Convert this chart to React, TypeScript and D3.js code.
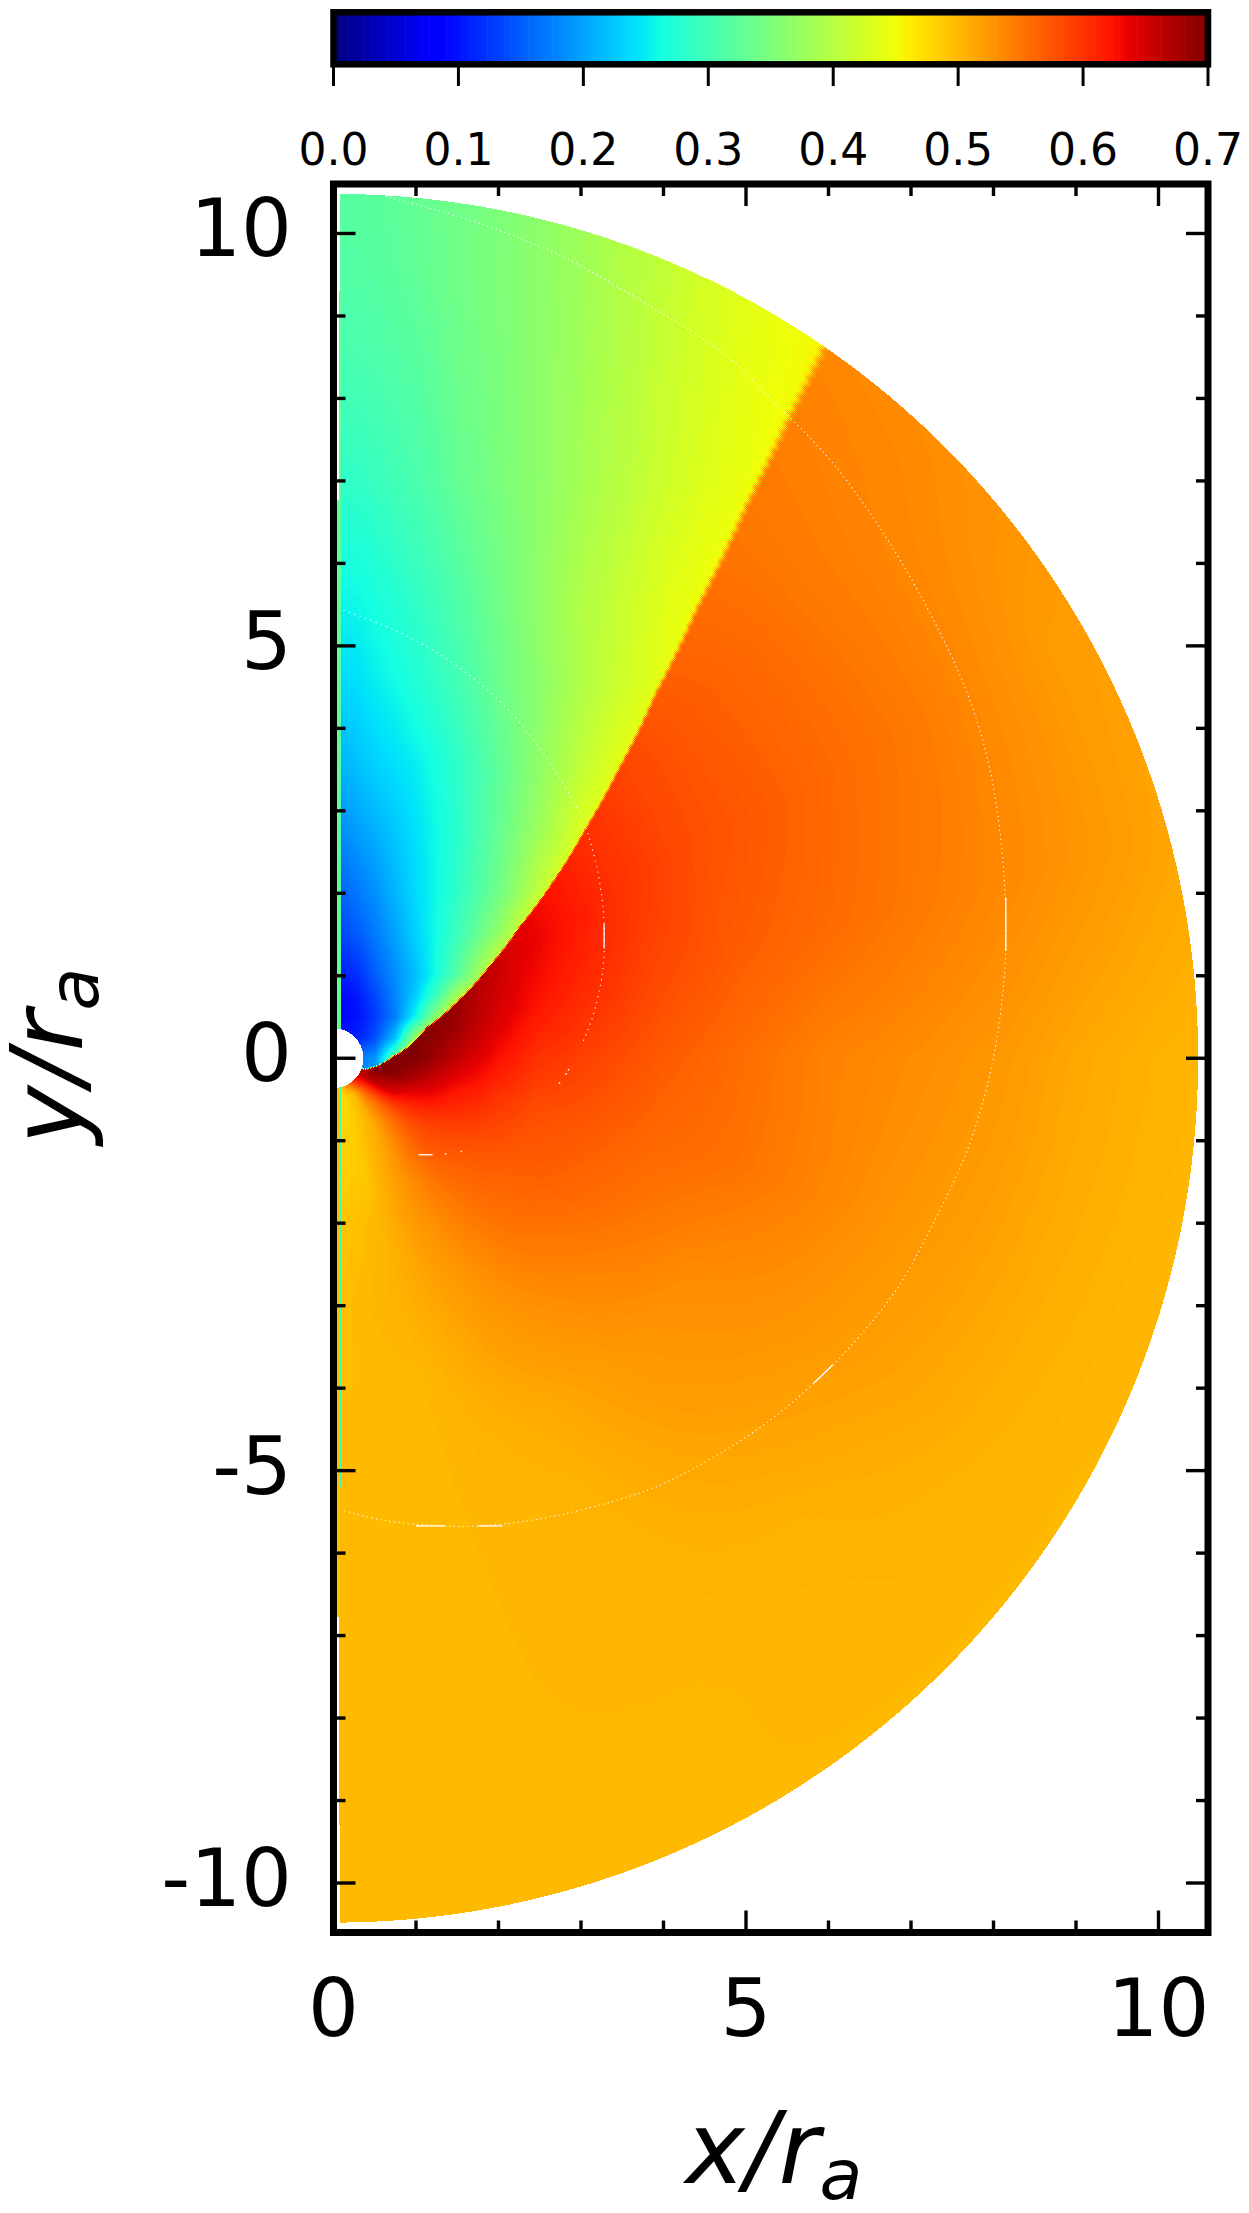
import React, { useMemo } from "react";
import * as d3 from "d3";

// colour bar ticks
const barTicks = [0, 0.1, 0.2, 0.3, 0.4, 0.5, 0.6, 0.7];
const xTicks = [0, 1, 2, 3, 4, 5, 6, 7, 8, 9, 10];
const yTicks = [-10, -9, -8, -7, -6, -5, -4, -3, -2, -1, 0, 1, 2, 3, 4, 5, 6, 7, 8, 9, 10];
const xLabels = [0, 5, 10];
const yLabels = [-10, -5, 0, 5, 10];

// shock front, inner end to outer end
const shockX = [0.364, 0.71, 1.12, 1.52, 1.88, 2.24, 2.65, 3.05, 3.45, 3.9, 4.4, 5.0, 5.5, 5.93];
const shockY = [-0.13, 0.02, 0.37, 0.71, 1.11, 1.58, 2.13, 2.78, 3.5, 4.42, 5.45, 6.7, 7.73, 8.6];

// field above the shock: rows by y, columns by x (short rows stop at the shock)
const upperY = [-0.2, 0, 0.25, 0.5, 0.75, 1, 1.5, 2, 2.75, 3.5, 4.5, 5.5, 7, 8.5, 9.5, 10.5];
const upperX = [0.1, 0.3, 0.5, 0.75, 1, 1.25, 1.5, 2, 2.5, 3, 3.5, 4, 4.5, 5, 5.5, 6];
const upperV = [
  [0.18, 0.18, 0.19, 0.3],
  [0.17, 0.17, 0.19, 0.33, 0.44],
  [0.1, 0.11, 0.14, 0.22, 0.38, 0.45],
  [0.085, 0.1, 0.125, 0.175, 0.26, 0.37, 0.45],
  [0.09, 0.105, 0.135, 0.18, 0.23, 0.3, 0.39, 0.46],
  [0.105, 0.12, 0.15, 0.185, 0.22, 0.265, 0.32, 0.44],
  [0.135, 0.15, 0.17, 0.2, 0.232, 0.262, 0.295, 0.37, 0.46],
  [0.155, 0.17, 0.187, 0.212, 0.238, 0.26, 0.285, 0.34, 0.41, 0.46],
  [0.185, 0.197, 0.208, 0.225, 0.242, 0.26, 0.28, 0.33, 0.38, 0.43, 0.46],
  [0.21, 0.22, 0.23, 0.24, 0.25, 0.265, 0.283, 0.325, 0.368, 0.41, 0.44, 0.46],
  [0.235, 0.24, 0.25, 0.26, 0.272, 0.285, 0.3, 0.335, 0.365, 0.395, 0.42, 0.44, 0.46],
  [0.255, 0.258, 0.265, 0.275, 0.285, 0.298, 0.312, 0.34, 0.368, 0.396, 0.415, 0.435, 0.45, 0.46],
  [0.285, 0.287, 0.292, 0.3, 0.308, 0.318, 0.33, 0.348, 0.365, 0.385, 0.402, 0.418, 0.433, 0.445, 0.455, 0.46],
  [0.305, 0.307, 0.31, 0.315, 0.32, 0.328, 0.337, 0.35, 0.365, 0.382, 0.398, 0.414, 0.427, 0.44, 0.448, 0.455],
  [0.315, 0.316, 0.318, 0.322, 0.327, 0.333, 0.34, 0.352, 0.365, 0.38, 0.397, 0.41, 0.425, 0.437, 0.445, 0.45],
  [0.32, 0.32, 0.322, 0.325, 0.33, 0.335, 0.34, 0.35, 0.365, 0.38, 0.395, 0.41, 0.425, 0.435, 0.445, 0.45],
];

// field below the shock: rows by radius, columns by polar angle from +y
const lowerR = [0.36, 0.5, 0.75, 1, 1.5, 2, 2.5, 3, 4, 5, 6, 7, 8, 9, 10, 10.45];
const lowerT = [35, 45, 60, 75, 90, 105, 120, 135, 150, 165, 180];
const lowerV = [
  [0.66, 0.66, 0.66, 0.66, 0.66, 0.66, 0.66, 0.62, 0.55, 0.49, 0.47],
  [0.7, 0.7, 0.7, 0.7, 0.7, 0.7, 0.665, 0.58, 0.5, 0.475, 0.47],
  [0.7, 0.7, 0.7, 0.7, 0.7, 0.695, 0.65, 0.56, 0.505, 0.48, 0.475],
  [0.7, 0.7, 0.7, 0.7, 0.7, 0.67, 0.62, 0.56, 0.51, 0.485, 0.48],
  [0.695, 0.695, 0.695, 0.685, 0.66, 0.625, 0.595, 0.57, 0.525, 0.49, 0.482],
  [0.67, 0.67, 0.67, 0.65, 0.625, 0.6, 0.58, 0.56, 0.53, 0.5, 0.49],
  [0.65, 0.65, 0.645, 0.625, 0.6, 0.58, 0.57, 0.555, 0.528, 0.503, 0.492],
  [0.635, 0.635, 0.63, 0.61, 0.59, 0.575, 0.565, 0.55, 0.525, 0.505, 0.495],
  [0.605, 0.605, 0.6, 0.585, 0.57, 0.56, 0.55, 0.535, 0.52, 0.5, 0.497],
  [0.58, 0.585, 0.58, 0.57, 0.555, 0.553, 0.535, 0.525, 0.51, 0.5, 0.5],
  [0.565, 0.57, 0.57, 0.56, 0.54, 0.54, 0.53, 0.52, 0.505, 0.5, 0.5],
  [0.555, 0.56, 0.558, 0.55, 0.533, 0.528, 0.522, 0.513, 0.503, 0.5, 0.5],
  [0.55, 0.548, 0.548, 0.54, 0.525, 0.52, 0.515, 0.505, 0.502, 0.5, 0.5],
  [0.545, 0.54, 0.535, 0.53, 0.513, 0.51, 0.507, 0.503, 0.5, 0.5, 0.5],
  [0.54, 0.535, 0.522, 0.52, 0.505, 0.503, 0.502, 0.502, 0.5, 0.5, 0.5],
  [0.537, 0.532, 0.52, 0.515, 0.503, 0.502, 0.5, 0.5, 0.5, 0.5, 0.5],
];

// thin white seams of the mesh
const seamOuter: [number, number][] = [
  [0.63, 10.45], [1.69, 10.15], [2.73, 9.74], [3.75, 9.17], [4.75, 8.53], [5.27, 8.02], [5.76, 7.54], [6.17, 7.07],
  [6.74, 6.25], [7.27, 5.32], [7.68, 4.43], [7.93, 3.62], [8.08, 2.73], [8.15, 1.68], [8.12, 0.86], [7.96, -0.18],
  [7.68, -1.12], [7.27, -2.0], [6.84, -2.78], [6.35, -3.4], [5.9, -3.87], [5.21, -4.45], [4.39, -4.96], [3.82, -5.23],
  [2.73, -5.54], [1.81, -5.67], [1.32, -5.67], [0.59, -5.6], [0.11, -5.48],
];
const seamInner: [number, number][] = [
  [0.12, 5.43], [0.51, 5.29], [0.91, 5.11], [1.36, 4.85], [1.93, 4.41], [2.33, 3.98], [2.73, 3.41], [3.02, 2.89],
  [3.18, 2.37], [3.27, 1.8], [3.28, 1.47], [3.26, 1.03], [3.14, 0.5], [3.02, 0.19],
];
const seamDots: [number, number][] = [[2.81, -0.18], [2.73, -0.29], [2.84, -0.13], [1.54, -1.12], [1.35, -1.15]];
const seamDashes: [number, number, number, number][] = [
  [8.15, 1.95, 8.15, 1.3],
  [3.28, 1.63, 3.28, 1.33],
  [1.03, -1.17, 1.2, -1.17],
  [5.82, -3.94, 6.05, -3.72],
  [1.35, -5.67, 1.0, -5.67],
  [2.05, -5.67, 1.75, -5.67],
];

const W = 1249;
const H = 2213;
const x = d3.scaleLinear().domain([0, 10.6]).range([333.5, 1208]);
const y = d3.scaleLinear().domain([-10.6, 10.6]).range([1932.5, 184]);
const barX = d3.scaleLinear().domain([0, 0.7]).range([333.5, 1208]);

// matplotlib jet
const jetR = d3.scaleLinear().domain([0, 0.35, 0.66, 0.89, 1]).range([0, 0, 1, 1, 0.5]);
const jetG = d3.scaleLinear().domain([0, 0.125, 0.375, 0.64, 0.91, 1]).range([0, 0, 1, 1, 0, 0]);
const jetB = d3.scaleLinear().domain([0, 0.11, 0.34, 0.65, 1]).range([0.5, 1, 1, 0, 0]);
const jet = (t: number) => d3.rgb(jetR(t) * 255, jetG(t) * 255, jetB(t) * 255).formatHex();
const LEVELS = 256;
const levelOf = d3.scaleQuantize().domain([0, 0.7]).range(d3.range(LEVELS));

const shockR = shockX.map((d, i) => Math.hypot(d, shockY[i]));
const shockT = shockX.map((d, i) => (Math.atan2(d, shockY[i]) * 180) / Math.PI);
const shockAngle = d3.scaleLinear().domain(shockR).range(shockT).clamp(true);

function bilerp(rows: number[], cols: number[], grid: number[][], a: number, b: number) {
  const i = Math.max(0, Math.min(rows.length - 2, d3.bisectRight(rows, a) - 1));
  const j = Math.max(0, Math.min(cols.length - 2, d3.bisectRight(cols, b) - 1));
  const u = Math.max(0, Math.min(1, (a - rows[i]) / (rows[i + 1] - rows[i])));
  const v = Math.max(0, Math.min(1, (b - cols[j]) / (cols[j + 1] - cols[j])));
  const g = (m: number, n: number) => grid[m][Math.min(n, grid[m].length - 1)];
  return (
    g(i, j) * (1 - u) * (1 - v) + g(i + 1, j) * u * (1 - v) + g(i, j + 1) * (1 - u) * v + g(i + 1, j + 1) * u * v
  );
}

// one path per colour level, made of pixel runs, so the field stays plain svg
function buildField() {
  const parts: string[][] = d3.range(LEVELS).map(() => []);
  const ppu = x(1) - x(0);
  for (let iy = 188; iy < 1930; iy++) {
    const dy = y.invert(iy + 0.5);
    const ady = Math.abs(dy);
    const start = ady > 9.3 ? 340 : ady > 6.77 ? 339 : 337;
    let runStart = -1;
    let runLevel = -1;
    for (let ix = start; ix <= 1200; ix++) {
      const dx = x.invert(ix + 0.5);
      const r = Math.hypot(dx, dy);
      let level = -1;
      if (r >= 0.362 && r <= 10.48) {
        let val: number;
        if (ix < 341 && dy > -0.02) {
          val = 0.325;
        } else if (ix < 340 && dy <= -0.02) {
          val = 0.495;
        } else if (ix === 340 && dy > -5.2) {
          val = 0.3;
        } else {
          const t = (Math.atan2(dx, dy) * 180) / Math.PI;
          const s = r * ppu;
          const w = Math.max(0.8, 0.45 * (r - 2));
          const tooth = Math.abs(((s / 5) % 2) - 1) - 0.5;
          const d = (((t - shockAngle(r)) * Math.PI) / 180) * s + w * 0.8 * tooth;
          const k = (d + w) / (2 * w) + ((ix + iy) & 1 ? 0.3 : -0.3);
          const up = k < 1 ? bilerp(upperY, upperX, upperV, dy, dx) : 0;
          const low = k > 0 ? bilerp(lowerR, lowerT, lowerV, r, t) : 0;
          val = k <= 0 ? up : k >= 1 ? low : up + (low - up) * k;
        }
        level = levelOf(val) as number;
      }
      if (level !== runLevel) {
        if (runLevel >= 0) parts[runLevel].push(`M${runStart} ${iy}h${ix - runStart}v1h${runStart - ix}z`);
        runStart = ix;
        runLevel = level;
      }
    }
    if (runLevel >= 0) parts[runLevel].push(`M${runStart} ${iy}h${1201 - runStart}v1h${runStart - 1201}z`);
  }
  return parts.map((p, i) => ({ level: i, d: p.join("") })).filter((p) => p.d.length > 0);
}

const font = "'DejaVu Sans', sans-serif";
const seamLine = d3
  .line<[number, number]>()
  .x((d) => x(d[0]))
  .y((d) => y(d[1]))
  .curve(d3.curveCatmullRom);

export default function App() {
  const layers = useMemo(buildField, []);
  const levels = d3.range(LEVELS);
  const stepW = (barX(0.7) - barX(0)) / LEVELS;

  return (
    <svg width={W} height={H} style={{ position: "absolute", left: 0, top: 0, display: "block" }} fontFamily={font}>
      <rect width={W} height={H} fill="#fff" />

      {/* colour bar */}
      {levels.map((l) => (
        <rect
          key={l}
          x={barX(0) + l * stepW}
          y={12}
          width={stepW + 0.6}
          height={52}
          fill={jet((l + 0.5) / LEVELS)}
        />
      ))}
      <rect x={barX(0)} y={12.3} width={barX(0.7) - barX(0)} height={52} fill="none" stroke="#000" strokeWidth={6.5} />
      {barTicks.map((t) => (
        <g key={t}>
          <line x1={barX(t)} x2={barX(t)} y1={66} y2={86} stroke="#000" strokeWidth={3} />
          <text x={barX(t)} y={165} fontSize={44} textAnchor="middle">
            {t.toFixed(1)}
          </text>
        </g>
      ))}

      {/* field */}
      <g shapeRendering="crispEdges">
        {layers.map((p) => (
          <path key={p.level} d={p.d} fill={jet((p.level + 0.5) / LEVELS)} />
        ))}
      </g>

      {/* mesh seams */}
      <g fill="none" stroke="#fff" strokeWidth={1.1}>
        <path d={seamLine(seamOuter) as string} strokeDasharray="1.2 3.4" />
        <path d={seamLine(seamInner) as string} strokeDasharray="1.2 4.5" />
        {seamDashes.map((d, i) => (
          <line key={i} x1={x(d[0])} y1={y(d[1])} x2={x(d[2])} y2={y(d[3])} strokeWidth={1.3} />
        ))}
      </g>
      {seamDots.map((d, i) => (
        <rect key={i} x={x(d[0])} y={y(d[1])} width={1.5} height={1.5} fill="#fff" />
      ))}

      {/* ticks */}
      <g stroke="#000" strokeWidth={3.4}>
        {xTicks.map((t) => {
          const len = t % 5 === 0 ? 20 : 10;
          return (
            <g key={t}>
              <line x1={x(t)} x2={x(t)} y1={184} y2={184 + len + 2} />
              <line x1={x(t)} x2={x(t)} y1={1932.5} y2={1932.5 - len - 2} />
            </g>
          );
        })}
        {yTicks.map((t) => {
          const len = t % 5 === 0 ? 20 : 10;
          return (
            <g key={t}>
              <line x1={333.5} x2={333.5 + len + 2} y1={y(t)} y2={y(t)} />
              <line x1={1208} x2={1208 - len - 2} y1={y(t)} y2={y(t)} />
            </g>
          );
        })}
      </g>
      <rect
        x={x(0)}
        y={y(10.6)}
        width={x(10.6) - x(0)}
        height={y(-10.6) - y(10.6)}
        fill="none"
        stroke="#000"
        strokeWidth={7}
      />

      {/* tick labels */}
      {xLabels.map((t) => (
        <text key={t} x={x(t)} y={2036} fontSize={80} textAnchor="middle">
          {t}
        </text>
      ))}
      {yLabels.map((t) => (
        <text key={t} x={292} y={y(t) + 23} fontSize={80} textAnchor="end">
          {t}
        </text>
      ))}

      {/* axis titles */}
      <text x={774} y={2183} fontSize={100} fontStyle="italic" textAnchor="middle">
        x/r
        <tspan fontSize={70} dy={16}>
          a
        </tspan>
      </text>
      <text transform="translate(82,1056) rotate(-90)" fontSize={100} fontStyle="italic" textAnchor="middle">
        y/r
        <tspan fontSize={70} dy={16}>
          a
        </tspan>
      </text>
    </svg>
  );
}
